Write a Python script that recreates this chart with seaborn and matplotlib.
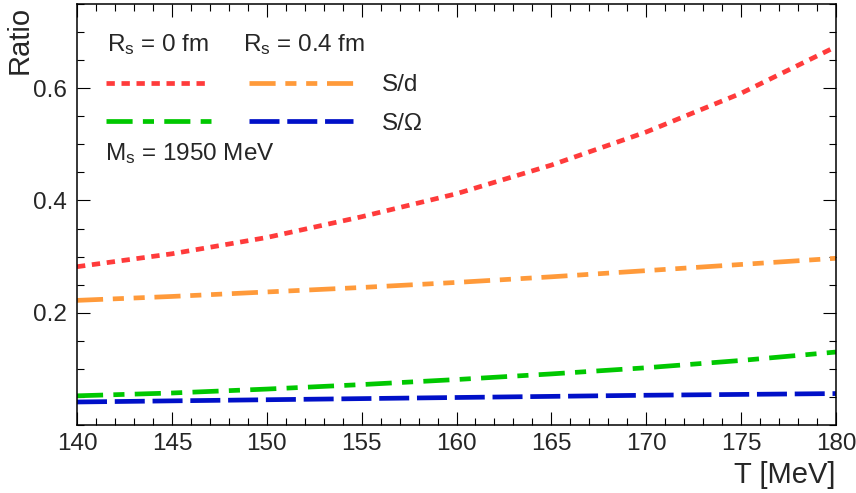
import numpy as np
import pandas as pd
import matplotlib
matplotlib.use("Agg")
import matplotlib.pyplot as plt
from matplotlib.ticker import MultipleLocator, FixedLocator
import seaborn as sns

# ---- data ----
T = [140, 145, 150, 155, 160, 165, 170, 175, 180]
sd_r0 = [0.282, 0.305, 0.334, 0.371, 0.412, 0.463, 0.522, 0.591, 0.674]
sd_r04 = [0.222, 0.229, 0.237, 0.245, 0.254, 0.264, 0.275, 0.286, 0.297]
so_r0 = [0.052, 0.057, 0.064, 0.072, 0.081, 0.091, 0.102, 0.115, 0.130]
so_r04 = [0.041, 0.043, 0.045, 0.047, 0.049, 0.051, 0.053, 0.0545, 0.056]
x_ticks = [140, 145, 150, 155, 160, 165, 170, 175, 180]
y_ticks = [0.2, 0.4, 0.6]
y_tick_labels = ["0.2", "0.4", "0.6"]

sns.set_theme(style="white")
plt.rcParams['font.family'] = ['Liberation Sans', 'DejaVu Sans']
plt.rcParams['mathtext.fontset'] = 'custom'
plt.rcParams['mathtext.rm'] = 'Liberation Sans'
plt.rcParams['mathtext.it'] = 'Liberation Sans'
plt.rcParams['lines.scale_dashes'] = False

fig = plt.figure(figsize=(8.56, 4.93), dpi=100)
ax = fig.add_axes([77/856, 1-425/493, 759/856, 421/493])

series = [
    (sd_r0, '#ff3b3b', (0, (6.0, 4.8))),
    (sd_r04, '#ff9a3a', (0, (18.8, 7.0, 8.0, 7.0, 8.0, 7.0))),
    (so_r0, '#00c800', (0, (18.8, 7.4, 8.0, 7.4))),
    (so_r04, '#0010c8', (0, (21.6, 5.6))),
]
handles = []
for vals, col, ls in series:
    df = pd.DataFrame({'T': T, 'v': vals})
    sns.lineplot(data=df, x='T', y='v', color=col, linewidth=3.4, ax=ax)
    line = ax.lines[-1]
    line.set_linestyle(ls)
    line.set_dash_capstyle('butt')
    handles.append(line)

ax.set_xlim(140, 180)
ax.set_ylim(0, 0.75)
ax.xaxis.set_major_locator(FixedLocator(x_ticks))
ax.xaxis.set_minor_locator(MultipleLocator(1))
ax.set_yticks(y_ticks)
ax.set_yticklabels(y_tick_labels)
ax.yaxis.set_minor_locator(MultipleLocator(0.05))

ax.tick_params(which='both', direction='in', top=True, right=True,
               bottom=True, left=True, color='black', width=0.8)
ax.tick_params(which='major', length=9.5, labelsize=17.5)
ax.tick_params(which='minor', length=5)
ax.tick_params(axis='y', which='major', pad=7)
ax.tick_params(axis='x', which='major', pad=6)
for s in ax.spines.values():
    s.set_color('black')
    s.set_linewidth(1.1)

ax.set_xlabel('T [MeV]', fontsize=21, loc='right', labelpad=4)
ax.set_ylabel('Ratio', fontsize=21, loc='top')
ax.yaxis.set_label_coords(-0.057, 0.995)

fs = 17.5
ax.text(30/759, (425-45)/421, r'R$_\mathrm{s}$ = 0 fm', transform=ax.transAxes,
        fontsize=fs, va='center', ha='left')
ax.text(166/759, (425-45)/421, r'R$_\mathrm{s}$ = 0.4 fm', transform=ax.transAxes,
        fontsize=fs, va='center', ha='left')
ax.text(28/759, (425-154)/421, r'M$_\mathrm{s}$ = 1950 MeV', transform=ax.transAxes,
        fontsize=fs, va='center', ha='left')

leg = ax.legend(handles=[handles[0], handles[2], handles[1], handles[3]],
                labels=['', '', 'S/d', 'S/Ω'], ncol=2, frameon=False,
                loc='upper left', bbox_to_anchor=(29/759, (425-74)/421),
                borderpad=0, borderaxespad=0, fontsize=fs,
                handlelength=4.3, handletextpad=1.2, columnspacing=0.37,
                labelspacing=0.68)

fig.savefig('out.png', dpi=100, facecolor='white')
